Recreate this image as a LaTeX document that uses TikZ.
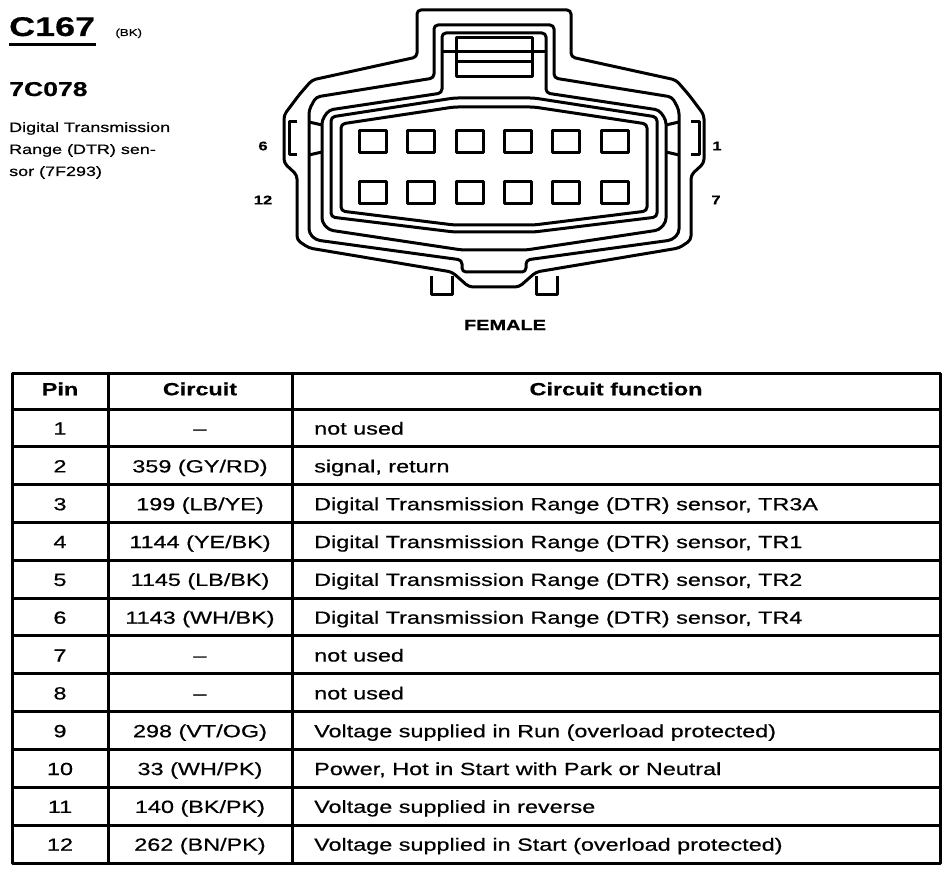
\documentclass[tikz,border=0pt]{standalone}
\usepackage{fontspec}
\setmainfont{Liberation Sans}[FakeStretch=1.33,FakeBold=0.6]
\usetikzlibrary{positioning}

\begin{document}
\begin{tikzpicture}[x=1pt,y=-1pt,line join=round]
	\tikzstyle{outline} = [draw, line width=3pt, rounded corners=4pt]
	\tikzstyle{pin} = [draw, line width=3pt, minimum width=27pt, minimum height=22pt, inner sep=0pt]
	\tikzstyle{cell} = [font=\fontsize{17.6}{18}\selectfont, anchor=center, text height=12pt, text depth=3.5pt]
	\tikzstyle{grid} = [line width=3pt]

	\useasboundingbox (0,0) rectangle (952,874);

	% heading
	\node [font=\fontsize{27}{30}\bfseries, anchor=base west, inner sep=0pt] (conn) at (9,36) {C167};
	\node [font=\fontsize{10}{12}\selectfont, inner sep=0pt, right = 20pt of conn.base east, anchor=base west] (color) {(BK)};
	\node [font=\fontsize{20}{24}\bfseries, anchor=base west, inner sep=0pt] (part) at (9,96) {7C078};
	\node [font=\fontsize{13.5}{22}\selectfont, anchor=north west, align=left, inner sep=0pt] (desc) at (9,122) {Digital Transmission\\Range (DTR) sen-\\sor (7F293)};
	\coordinate (ul1) at (9,45);
	\coordinate (ul2) at (96,45);
	\draw [line width=3pt] (ul1) -- (ul2);

	% connector body
	\begin{scope}[shift={(494,0)}]
		\draw [outline] (-77,10) -- (77,10) -- (77,57) -- (182,80) -- (195,95) -- (210,115) -- (210,163) -- (197,175) -- (197,240) -- (185,248) -- (42,272) -- (25,287) -- (-25,287) -- (-42,272) -- (-185,248) -- (-197,240) -- (-197,175) -- (-210,163) -- (-210,115) -- (-195,95) -- (-182,80) -- (-77,57) -- cycle;
		\draw [outline] (-60,25) -- (60,25) -- (60,78) -- (178,97) -- (185,110) -- (185,233) -- (178,240) -- (32,260) -- (32,272) -- (-32,272) -- (-32,260) -- (-178,240) -- (-185,233) -- (-185,110) -- (-178,97) -- (-60,78) -- cycle;
		\draw [outline] (-52,33) -- (52,33) -- (52,93) -- (165,110) -- (172,120) -- (172,222) -- (165,230) -- (32,250) -- (-32,250) -- (-165,230) -- (-172,222) -- (-172,120) -- (-165,110) -- (-52,93) -- cycle;
		\draw [outline] (-163,117) -- (-40,98) -- (40,98) -- (163,117) -- (163,217) -- (40,232) -- (-40,232) -- (-163,217) -- cycle;
		\draw [outline] (-153,124) -- (-40,107) -- (40,107) -- (153,124) -- (153,211) -- (40,225) -- (-40,225) -- (-153,211) -- cycle;
		% top latch
		\draw [line width=3pt] (-38,38) rectangle (38,77);
		\draw [line width=3pt] (-52,52) -- (52,52);
		\draw [line width=3pt] (-38,62) -- (38,62);
		% side latches
		\draw [line width=3pt] (-197,122) -- (-205,122) -- (-205,155) -- (-197,155);
		\draw [line width=3pt] (-185,122) -- (-172,125) (-185,155) -- (-172,152);
		\draw [line width=3pt] (197,122) -- (205,122) -- (205,155) -- (197,155);
		\draw [line width=3pt] (185,122) -- (172,125) (185,155) -- (172,152);
		% bottom tabs
		\draw [line width=3pt] (-63,276) -- (-63,295) -- (-42,295) -- (-42,276);
		\draw [line width=3pt] (42,276) -- (42,295) -- (63,295) -- (63,276);
		% cavities
		\foreach \i in {0,...,5} {
			\node [pin] (top\i) at (-121+48.3*\i,141.5) {};
			\node [pin] (bot\i) at (-121+48.3*\i,192.5) {};
		}
	\end{scope}

	\node [font=\fontsize{12.5}{14}\bfseries] (n6) at (263,146) {6};
	\node [font=\fontsize{12.5}{14}\bfseries] (n12) at (263,200) {12};
	\node [font=\fontsize{12.5}{14}\bfseries] (n1) at (717,146) {1};
	\node [font=\fontsize{12.5}{14}\bfseries] (n7) at (716,200) {7};
	\node [font=\fontsize{15}{16}\bfseries] (female) at (505,325) {FEMALE};

	% table
	\draw [grid] (12,373) rectangle (940,863);
	\draw [grid] (108,373) -- (108,863);
	\draw [grid] (292,373) -- (292,863);
	\draw [grid] (12,409) -- (940,409);
	\foreach \r in {1,...,11} {
		\draw [grid] (12,409+37.83*\r) -- (940,409+37.83*\r);
	}
	\node [cell, font=\fontsize{17.6}{18}\bfseries] (hpin) at (60,391) {Pin};
	\node [cell, font=\fontsize{17.6}{18}\bfseries] (hcirc) at (200,391) {Circuit};
	\node [cell, font=\fontsize{17.6}{18}\bfseries] (hfunc) at (616,391) {Circuit function};

	\foreach \p/\c/\f [count=\k] in {
		1/--/not used,
		2/{359 (GY/RD)}/{signal, return},
		3/{199 (LB/YE)}/{Digital Transmission Range (DTR) sensor, TR3A},
		4/{1144 (YE/BK)}/{Digital Transmission Range (DTR) sensor, TR1},
		5/{1145 (LB/BK)}/{Digital Transmission Range (DTR) sensor, TR2},
		6/{1143 (WH/BK)}/{Digital Transmission Range (DTR) sensor, TR4},
		7/--/not used,
		8/--/not used,
		9/{298 (VT/OG)}/Voltage supplied in Run (overload protected),
		10/{33 (WH/PK)}/{Power, Hot in Start with Park or Neutral},
		11/{140 (BK/PK)}/Voltage supplied in reverse,
		12/{262 (BN/PK)}/Voltage supplied in Start (overload protected)} {
		\node [cell] (pin\k) at (60,409+37.83*\k-16.5) {\p};
		\node [cell] (circ\k) at (200,409+37.83*\k-16.5) {\c};
		\node [cell, anchor=west, inner sep=0pt] (func\k) at (314,409+37.83*\k-16.5) {\f};
	}
\end{tikzpicture}
\end{document}
